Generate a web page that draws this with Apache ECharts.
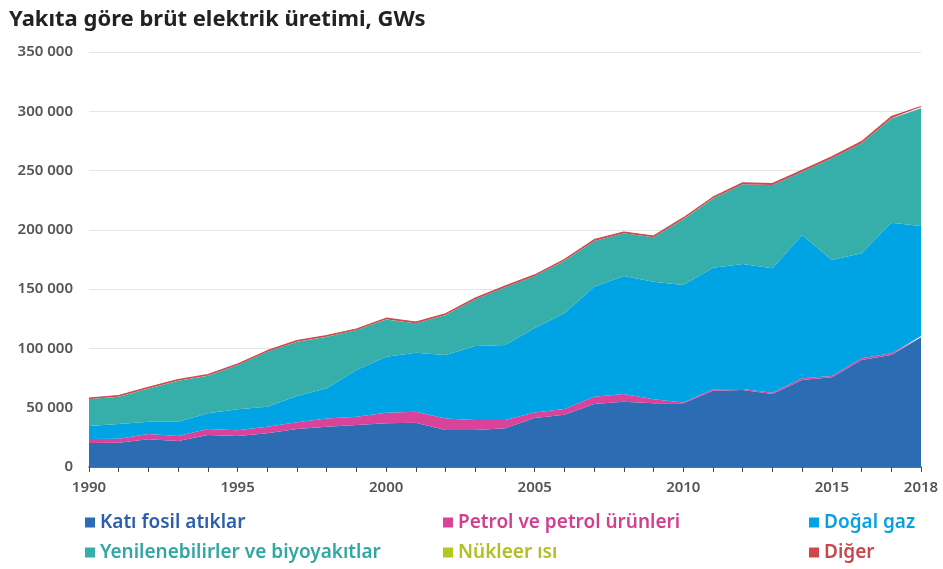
<!DOCTYPE html>
<html>
<head>
<meta charset="utf-8">
<script src="https://cdn.jsdelivr.net/npm/echarts@6/dist/echarts.min.js"></script>
<style>html,body{margin:0;padding:0;background:#fff}#c{width:943px;height:569px}</style>
</head>
<body>
<div id="c"></div>
<script>
var years = ['1990','1991','1992','1993','1994','1995','1996','1997','1998','1999','2000','2001','2002','2003','2004','2005','2006','2007','2008','2009','2010','2011','2012','2013','2014','2015','2016','2017','2018'];
var solidFossil = [20200,20500,23300,21900,27000,26100,28400,32000,34000,35400,36800,37400,31200,31200,32600,41300,44000,53100,55100,53700,53700,64300,64900,61600,73400,75600,90200,94400,109400];
var oil = [3400,3400,4500,4200,5000,4900,5600,5700,7000,7000,9000,9200,9800,8400,7000,4700,5000,6200,6500,3400,600,1200,900,1100,1400,1100,1500,1500,1100];
var naturalGas = [11000,12400,10400,12100,13300,17600,16900,22200,25400,39400,47200,49800,53400,62400,63300,71200,80600,92800,99500,99200,99200,102600,105400,104900,120800,97900,88500,110100,92700];
var renewables = [22700,23000,28100,34600,31700,37400,46300,45800,43500,33700,31500,24800,33800,39400,48600,43800,44400,38500,36000,37400,55500,58400,67200,70200,53400,85700,92800,88000,99300];
var nuclear = [100,100,100,100,100,100,100,100,100,100,100,100,100,100,100,100,100,100,100,100,100,100,100,100,100,100,100,100,100];
var other = [800,800,800,800,800,800,800,800,800,800,900,900,900,900,900,900,900,1000,1000,1000,1000,1000,1100,1100,1200,1200,1300,1400,1400];
var yTicks = [0,50000,100000,150000,200000,250000,300000,350000];

var names = ['Katı fosil atıklar','Petrol ve petrol ürünleri','Doğal gaz','Yenilenebilirler ve biyoyakıtlar','Nükleer ısı','Diğer'];
var colors = ['#2b6cb3','#d9449a','#00a3e3','#36afab','#b6c621','#d0464a'];
var textColors = ['#2a5fae','#d0408f','#0aa0df','#2fa8a3','#b0c020','#c9474b'];
var dataSets = [solidFossil, oil, naturalGas, renewables, nuclear, other];

var chart = echarts.init(document.getElementById('c'));
var series = dataSets.map(function(d, i){
  return {
    name: names[i], type: 'line', stack: 'total', data: d,
    symbol: 'none', smooth: false,
    lineStyle: { width: i === 5 ? 1.2 : 0, color: colors[i] },
    itemStyle: { color: colors[i] },
    areaStyle: { color: colors[i], opacity: 1 },
    emphasis: { disabled: true }
  };
});
var legendPos = [[80,508],[438,508],[804,508],[80,538],[438,538],[804,538]];
var legends = names.map(function(n, i){
  return {
    left: legendPos[i][0], top: legendPos[i][1],
    data: [{ name: n, textStyle: { color: textColors[i] } }],
    icon: 'rect', itemWidth: 10, itemHeight: 10, itemGap: 6,
    textStyle: { fontFamily: 'Noto Sans', fontSize: 19, fontWeight: 600 },
    selectedMode: false
  };
});
chart.setOption({
  animation: false,
  title: { text: 'Yakıta göre brüt elektrik üretimi, GWs', left: 4, top: 4,
    textStyle: { fontFamily: 'Noto Sans', fontSize: 22, fontWeight: 'bold', color: '#222' } },
  grid: { left: 89, right: 22, top: 52, bottom: 102 },
  legend: legends,
  xAxis: {
    type: 'category', data: years, boundaryGap: false,
    axisLine: { lineStyle: { color: '#3a4a66', width: 1.5 } },
    axisTick: { show: true, interval: 0, length: 5, lineStyle: { color: '#3a4a66' } },
    axisLabel: {
      interval: function(i, v){ var y = parseInt(v,10); return y % 5 === 0 || y === 2018; },
      color: '#555', fontFamily: 'Noto Sans', fontSize: 15, fontWeight: 600, margin: 13
    },
    splitLine: { show: false }
  },
  yAxis: {
    type: 'value', min: yTicks[0], max: yTicks[yTicks.length-1], interval: 50000,
    axisLine: { show: false }, axisTick: { show: false },
    axisLabel: {
      color: '#555', fontFamily: 'Noto Sans', fontSize: 15, fontWeight: 600, margin: 16,
      formatter: function(v){ return String(v).replace(/\B(?=(\d{3})+(?!\d))/g, ' '); }
    },
    splitLine: { lineStyle: { color: '#e6e6e6', width: 1 } }
  },
  series: series
});
</script>
</body>
</html>
